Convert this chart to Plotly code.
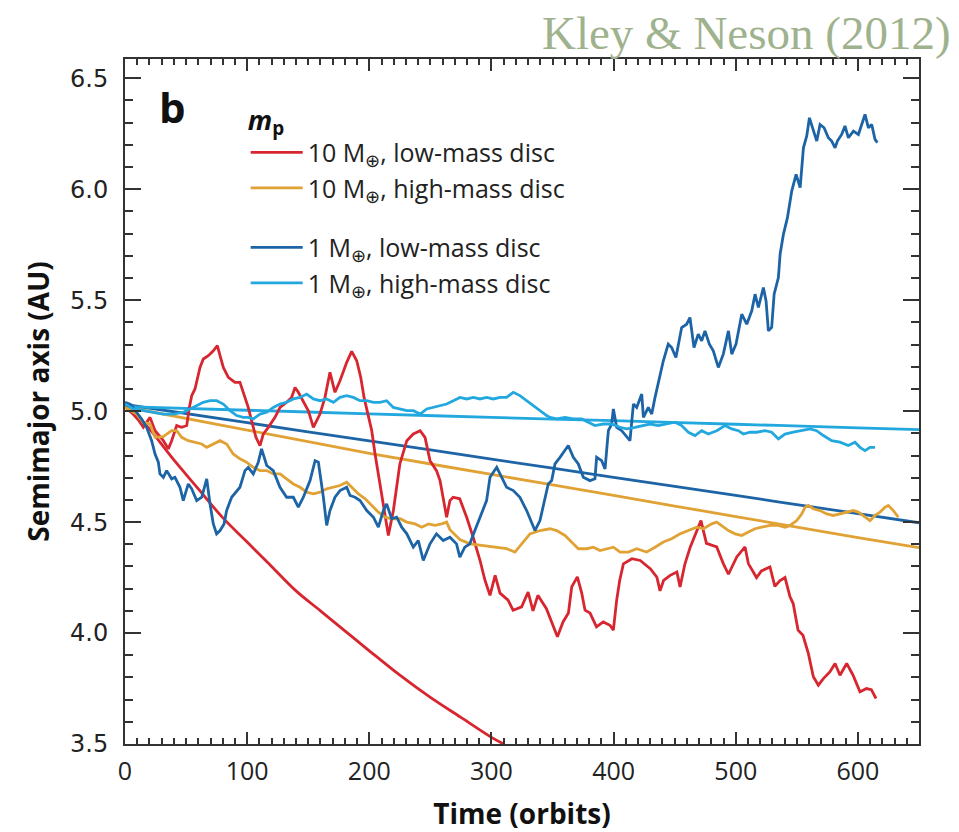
import plotly.graph_objects as go

# ---- simulation tracks: time (orbits) and semimajor axis (AU) ----
red_t = [0, 6, 11, 15, 20.5, 24.6, 31.4, 35.5, 38.2, 42.3, 46.4, 50.5, 52.7, 54.6, 57.3, 61.4, 64.1, 68.2, 72.3,
         75.6, 77.8, 80.5, 84.6, 90, 94.1, 97.4, 100.9, 103.6, 107.2, 110.5, 113.2, 117.3, 122.8, 126.9, 132.3,
         136.4, 139.2, 141.9, 146, 150.1, 154.2, 156.9, 159.6, 163.7, 167.8, 171.9, 176, 181.5, 185.6, 189.7,
         193, 195.7, 199.2, 202, 204.7, 207.4, 211, 213.7, 215.6, 219.7, 225, 230.7, 236, 241.6, 245.6, 249.7,
         255, 257.9, 263.3, 266, 268.6, 274, 279.7, 285, 290.6, 294.7, 298.8, 303, 307, 313.6, 317.7, 324.7,
         330, 334, 338, 345, 350, 354, 358.6, 363, 365.7, 370.3, 373.9, 376.6, 380.7, 386, 391.5, 397, 399.8,
         402.5, 405, 408, 415, 421.8, 430, 435.4, 438, 440.9, 446.3, 451.8, 454.4, 458.4, 462.7, 468.2, 471.5,
         476, 484.4, 489.8, 494, 500.8, 507.6, 510.3, 517, 521, 528, 532, 536, 540.3, 544.4, 547, 551, 555,
         559.4, 563.5, 567.6, 571.7, 577, 581.3, 585.3, 590.8, 596, 601.7, 607, 611, 614.8]
red_a = [5.02, 4.99, 4.96, 4.927, 4.972, 4.912, 4.867, 4.83, 4.867, 4.935, 4.927, 4.935, 5.017, 5.07, 5.10,
         5.197, 5.235, 5.25, 5.272, 5.295, 5.25, 5.197, 5.152, 5.13, 5.13, 5.077, 5.017, 4.957, 4.882, 4.845,
         4.897, 4.927, 4.972, 5.017, 5.04, 5.062, 5.107, 5.085, 5.04, 5.002, 4.927, 4.957, 4.987, 5.062, 5.175,
         5.085, 5.137, 5.22, 5.269, 5.227, 5.152, 5.062, 4.972, 4.912, 4.807, 4.717, 4.597, 4.492, 4.44, 4.552,
         4.762, 4.867, 4.897, 4.912, 4.882, 4.777, 4.732, 4.687, 4.522, 4.597, 4.612, 4.605, 4.522, 4.432,
         4.328, 4.238, 4.17, 4.26, 4.18, 4.148, 4.103, 4.118, 4.185, 4.10, 4.17, 4.11, 4.035, 3.983, 4.05, 4.09,
         4.208, 4.253, 4.18, 4.103, 4.09, 4.028, 4.05, 4.035, 4.013, 4.148, 4.238, 4.312, 4.335, 4.327, 4.29,
         4.252, 4.19, 4.237, 4.26, 4.275, 4.208, 4.312, 4.387, 4.462, 4.507, 4.404, 4.388, 4.313, 4.265, 4.343,
         4.388, 4.313, 4.25, 4.28, 4.298, 4.21, 4.235, 4.25, 4.163, 4.133, 4.013, 3.99, 3.908, 3.803, 3.765,
         3.795, 3.825, 3.863, 3.81, 3.863, 3.81, 3.735, 3.75, 3.745, 3.705]

orange_t = [0, 9.5, 15, 20.5, 24.6, 28.6, 31.4, 34.1, 38.2, 42.3, 46.4, 51.8, 57.3, 62.8, 66.9, 72.3, 77.8,
            83.2, 88.6, 94.1, 99.5, 105, 110.5, 116, 121.4, 126.9, 132.3, 137.8, 143.3, 148.7, 154.2, 159.6,
            165.1, 170.6, 176, 181.5, 185.6, 191.1, 196.6, 202, 207.4, 212.9, 218.3, 225.2, 230.7, 237.4, 242.9,
            248.4, 253.8, 259.3, 263.3, 266, 274.2, 282.4, 293.3, 304.3, 312.4, 319.2, 324.7, 331.5, 339.7,
            347.9, 353.4, 360.2, 367, 371.1, 378, 383.4, 388.9, 394.3, 399.8, 405.3, 412.1, 418.9, 427.1, 433.9,
            440.7, 447.5, 454.4, 461.2, 468, 473.5, 480.3, 484.4, 488.5, 494, 499.4, 504.9, 510.3, 515.8, 521.2,
            528, 534.9, 540.3, 544.4, 549.9, 554, 556.7, 559.4, 563.5, 569, 574.4, 579.9, 585.3, 592.1, 596.2,
            600.3, 605.8, 609.9, 614, 618.1, 622.2, 624.9, 629, 633.1]
orange_a = [5.017, 4.987, 4.95, 4.942, 4.882, 4.882, 4.885, 4.897, 4.912, 4.912, 4.882, 4.867, 4.86, 4.852,
            4.837, 4.852, 4.867, 4.852, 4.807, 4.785, 4.77, 4.747, 4.732, 4.732, 4.717, 4.717, 4.695, 4.672,
            4.657, 4.635, 4.627, 4.635, 4.65, 4.657, 4.665, 4.68, 4.657, 4.627, 4.605, 4.575, 4.545, 4.522,
            4.515, 4.515, 4.50, 4.492, 4.477, 4.492, 4.485, 4.492, 4.50, 4.466, 4.421, 4.402, 4.395, 4.387,
            4.38, 4.365, 4.402, 4.447, 4.462, 4.47, 4.462, 4.44, 4.402, 4.38, 4.38, 4.387, 4.372, 4.38, 4.387,
            4.365, 4.365, 4.38, 4.365, 4.387, 4.41, 4.425, 4.447, 4.462, 4.477, 4.47, 4.492, 4.50, 4.485, 4.462,
            4.447, 4.44, 4.455, 4.47, 4.477, 4.485, 4.485, 4.477, 4.485, 4.507, 4.537, 4.567, 4.575, 4.56,
            4.552, 4.537, 4.53, 4.537, 4.545, 4.552, 4.545, 4.522, 4.507, 4.53, 4.545, 4.567, 4.575, 4.552,
            4.522]

blue_t = [0, 4.5, 9.5, 13.6, 17.7, 21.8, 24.6, 27.3, 28.6, 31.4, 34.1, 38.2, 40.9, 45, 47.7, 51.8, 54.6, 58.7,
          62.8, 66.9, 69.6, 72.3, 75, 77.8, 81.1, 83.2, 87.3, 91.4, 94.1, 98.2, 100.9, 105, 109.1, 111.8, 116,
          121.4, 126.9, 132.3, 137.8, 141.9, 146, 151.5, 155.6, 158.3, 160.2, 162.4, 165.1, 167.8, 171.9, 176,
          181.5, 184.2, 188.3, 192.4, 197.9, 203.4, 207.4, 211.5, 214.2, 218.3, 222.4, 226.5, 230.7, 236,
          240.1, 244.2, 249.7, 255, 260.5, 266, 271.4, 274.1, 278.2, 282.3, 286.4, 290.5, 296, 298.8, 304.3,
          307, 312.4, 317.9, 323.3, 328.8, 335.6, 339.7, 343.8, 346.5, 349.3, 352, 356.1, 360.2, 362.9, 367,
          371.1, 375.2, 380.6, 384.7, 386.1, 390.2, 393, 395.7, 398.4, 399.8, 402.5, 406.6, 410.7, 413.4,
          416.2, 418.9, 423, 424.4, 428.4, 431.2, 433.9, 436.6, 440.7, 444.7, 447.5, 451, 455.7, 459.8, 462.5,
          465.8, 469.3, 472.1, 474.8, 478.4, 481.6, 485.7, 489.8, 494, 496.7, 500.2, 504.9, 509, 513.1, 515.8,
          518.5, 522.6, 524.8, 526.7, 529.4, 531.4, 534.9, 536.3, 539, 542.3, 545.8, 549.4, 552.7, 555.4,
          558.1, 560.3, 563.6, 566.3, 569, 572.3, 575.8, 578.5, 581.3, 583.2, 586.7, 589.4, 592.2, 596.3,
          600.4, 603.1, 605.8, 608.6, 611.3, 614, 615.9]
blue_a = [5.04, 5.03, 4.995, 4.965, 4.927, 4.867, 4.807, 4.77, 4.717, 4.702, 4.732, 4.695, 4.702, 4.657, 4.597,
          4.672, 4.65, 4.597, 4.612, 4.695, 4.582, 4.492, 4.447, 4.462, 4.492, 4.552, 4.612, 4.642, 4.657,
          4.732, 4.747, 4.717, 4.77, 4.83, 4.755, 4.732, 4.657, 4.612, 4.612, 4.567, 4.612, 4.687, 4.777, 4.77,
          4.702, 4.612, 4.485, 4.552, 4.612, 4.642, 4.657, 4.62, 4.612, 4.597, 4.552, 4.522, 4.477, 4.552,
          4.582, 4.515, 4.522, 4.477, 4.447, 4.387, 4.417, 4.327, 4.402, 4.447, 4.417, 4.432, 4.402, 4.342,
          4.387, 4.402, 4.462, 4.522, 4.597, 4.702, 4.747, 4.717, 4.657, 4.642, 4.612, 4.552, 4.462, 4.507,
          4.612, 4.672, 4.687, 4.762, 4.792, 4.822, 4.845, 4.792, 4.762, 4.702, 4.687, 4.695, 4.792, 4.777,
          4.74, 4.912, 4.942, 5.01, 4.927, 4.912, 4.882, 4.867, 5.032, 5.017, 5.077, 4.972, 5.017, 4.987,
          5.062, 5.122, 5.227, 5.302, 5.287, 5.242, 5.377, 5.392, 5.422, 5.287, 5.347, 5.317, 5.362, 5.302,
          5.272, 5.197, 5.257, 5.362, 5.257, 5.302, 5.437, 5.392, 5.452, 5.527, 5.467, 5.557, 5.497, 5.362,
          5.377, 5.527, 5.602, 5.707, 5.797, 5.872, 5.992, 6.067, 6.007, 6.187, 6.24, 6.322, 6.262, 6.217,
          6.292, 6.277, 6.232, 6.217, 6.187, 6.217, 6.247, 6.285, 6.232, 6.262, 6.247, 6.292, 6.337, 6.277,
          6.292, 6.225, 6.21]

cyan_t = [0, 6.8, 15, 23.2, 31.4, 39.6, 47.7, 53.2, 58.7, 64.1, 69.6, 75, 80.5, 86, 91.4, 96.8, 100.9, 105,
          110.5, 116, 121.4, 126.9, 132.3, 137.8, 143.3, 148.7, 154.2, 159.6, 165.1, 170.6, 176, 181.5, 186.9,
          192.4, 197.9, 203.4, 208.8, 214.2, 219.7, 225.2, 230.7, 236.1, 241.6, 247, 252.5, 257.9, 263.3,
          268.8, 274.2, 279.7, 285.2, 290.6, 296, 301.5, 307, 312.4, 317.9, 323.3, 328.8, 334.3, 339.7, 345.2,
          347.9, 353.4, 360.2, 367, 373.9, 379.3, 384.7, 391.5, 398.4, 405.2, 410.7, 417.5, 424.4, 429.8,
          436.6, 443.4, 450.3, 455.7, 461.2, 466.6, 472.1, 477.5, 484.4, 491.2, 496.7, 502.1, 506.2, 511.7,
          517.1, 524, 529.4, 534.9, 540.3, 547.1, 553.9, 560.8, 566.2, 571.7, 578.5, 585.3, 592.1, 597.6,
          601.7, 605.8, 609.9, 614]
cyan_a = [5.032, 5.01, 5.002, 4.995, 4.987, 4.987, 4.995, 5.01, 5.025, 5.04, 5.047, 5.047, 5.032, 5.002, 4.98,
          4.972, 4.972, 4.965, 4.987, 4.995, 5.017, 5.032, 5.04, 5.055, 5.062, 5.077, 5.055, 5.047, 5.055,
          5.04, 5.062, 5.07, 5.062, 5.047, 5.047, 5.04, 5.04, 5.047, 5.017, 5.01, 5.002, 5.002, 4.987, 5.01,
          5.017, 5.025, 5.032, 5.047, 5.062, 5.055, 5.062, 5.055, 5.062, 5.055, 5.062, 5.062, 5.085, 5.07,
          5.047, 5.025, 5.002, 4.98, 4.972, 4.965, 4.972, 4.965, 4.965, 4.95, 4.935, 4.942, 4.942, 4.927,
          4.92, 4.927, 4.935, 4.942, 4.935, 4.942, 4.95, 4.935, 4.905, 4.89, 4.912, 4.897, 4.912, 4.935, 4.92,
          4.912, 4.897, 4.905, 4.905, 4.912, 4.905, 4.875, 4.897, 4.905, 4.912, 4.92, 4.912, 4.89, 4.867,
          4.86, 4.845, 4.86, 4.837, 4.822, 4.837, 4.837]

# ---- model predictions (smooth tracks) ----
red_fit_t = [0, 10, 20, 40, 60, 80, 100, 120, 140, 160, 180, 200, 225, 250, 275, 300, 310]
red_fit_a = [5.03, 4.98, 4.92, 4.78, 4.65, 4.52, 4.41, 4.30, 4.19, 4.10, 4.01, 3.92, 3.81, 3.71, 3.62, 3.53, 3.50]

orange_fit_t = [0, 100, 200, 300, 400, 500, 600, 650]
orange_fit_a = [5.02, 4.915, 4.81, 4.715, 4.62, 4.525, 4.43, 4.385]

blue_fit_t = [0, 100, 200, 300, 400, 500, 600, 650]
blue_fit_a = [5.03, 4.948, 4.866, 4.784, 4.702, 4.62, 4.538, 4.497]

cyan_fit_t = [0, 100, 200, 300, 400, 500, 600, 650]
cyan_fit_a = [5.02, 5.004, 4.988, 4.972, 4.957, 4.941, 4.925, 4.917]

series = [
    ("10 M<sub>⊕</sub>, low-mass disc", "#d7262f", red_t, red_a, red_fit_t, red_fit_a, "g10"),
    ("10 M<sub>⊕</sub>, high-mass disc", "#e0a235", orange_t, orange_a, orange_fit_t, orange_fit_a, "g10"),
    ("1 M<sub>⊕</sub>, low-mass disc", "#1c64a5", blue_t, blue_a, blue_fit_t, blue_fit_a, "g1"),
    ("1 M<sub>⊕</sub>, high-mass disc", "#22a8de", cyan_t, cyan_a, cyan_fit_t, cyan_fit_a, "g1"),
]

fig = go.Figure()
for name, color, t, a, ft, fa, grp in series:
    fig.add_trace(go.Scatter(x=ft, y=fa, mode="lines", line=dict(color=color, width=2.8, shape="spline"),
                             legendgroup=grp, showlegend=False, hoverinfo="skip"))
for name, color, t, a, ft, fa, grp in series:
    fig.add_trace(go.Scatter(x=t, y=a, mode="lines", name=name, line=dict(color=color, width=2.8),
                             legendgroup=grp))

axis_common = dict(
    showline=True, linewidth=2, linecolor="#333", mirror="allticks",
    ticks="inside", tickcolor="#333", tickwidth=2,
    showgrid=False, zeroline=False, automargin=False,
)

fig.update_layout(
    width=959, height=832, autosize=False,
    margin=dict(l=125, r=40, t=59, b=88),
    paper_bgcolor="white", plot_bgcolor="white",
    xaxis=dict(range=[0, 650], tick0=0, dtick=100, ticklen=12,
               minor=dict(dtick=10, ticklen=6, ticks="inside", tickcolor="#333", tickwidth=1.5),
               tickfont=dict(family="Open Sans", size=25, color="#222"),
               ticklabelstandoff=4,
               title=dict(text="<b>Time (orbits)</b>", standoff=22,
                          font=dict(family="Open Sans", size=28, color="#111")),
               **axis_common),
    yaxis=dict(range=[3.5, 6.587], tick0=3.5, dtick=0.5, tickformat=".1f", ticklen=16,
               minor=dict(dtick=0.1, ticklen=8, ticks="inside", tickcolor="#333", tickwidth=1.5),
               tickfont=dict(family="DejaVu Sans", size=24, color="#222"),
               ticklabelstandoff=10,
               title=dict(text="<b>Semimajor axis (AU)</b>", standoff=12,
                          font=dict(family="Open Sans", size=28, color="#111")),
               **axis_common),
    legend=dict(x=0.152, y=0.948, xanchor="left", yanchor="top",
                bgcolor="rgba(0,0,0,0)", borderwidth=0,
                font=dict(family="Open Sans", size=25, color="#222"),
                title=dict(text="<b><i>m</i></b><sub><b>p</b></sub>",
                           font=dict(family="Open Sans", size=27, color="#111"), side="top"),
                traceorder="grouped", tracegroupgap=24, itemwidth=52),
    showlegend=True,
)

fig.add_annotation(text="<b>b</b>", xref="paper", yref="paper", x=0.06, y=0.93,
                   xanchor="center", yanchor="middle",
                   showarrow=False, font=dict(family="Open Sans", size=42, color="#111"))
fig.add_annotation(text="Kley &amp; Neson (2012)", xref="paper", yref="paper", x=1.043, y=1.038,
                   xanchor="right", yanchor="middle", showarrow=False,
                   font=dict(family="Liberation Serif", size=47, color="#9fb28e"))

fig.write_html("out.html")
